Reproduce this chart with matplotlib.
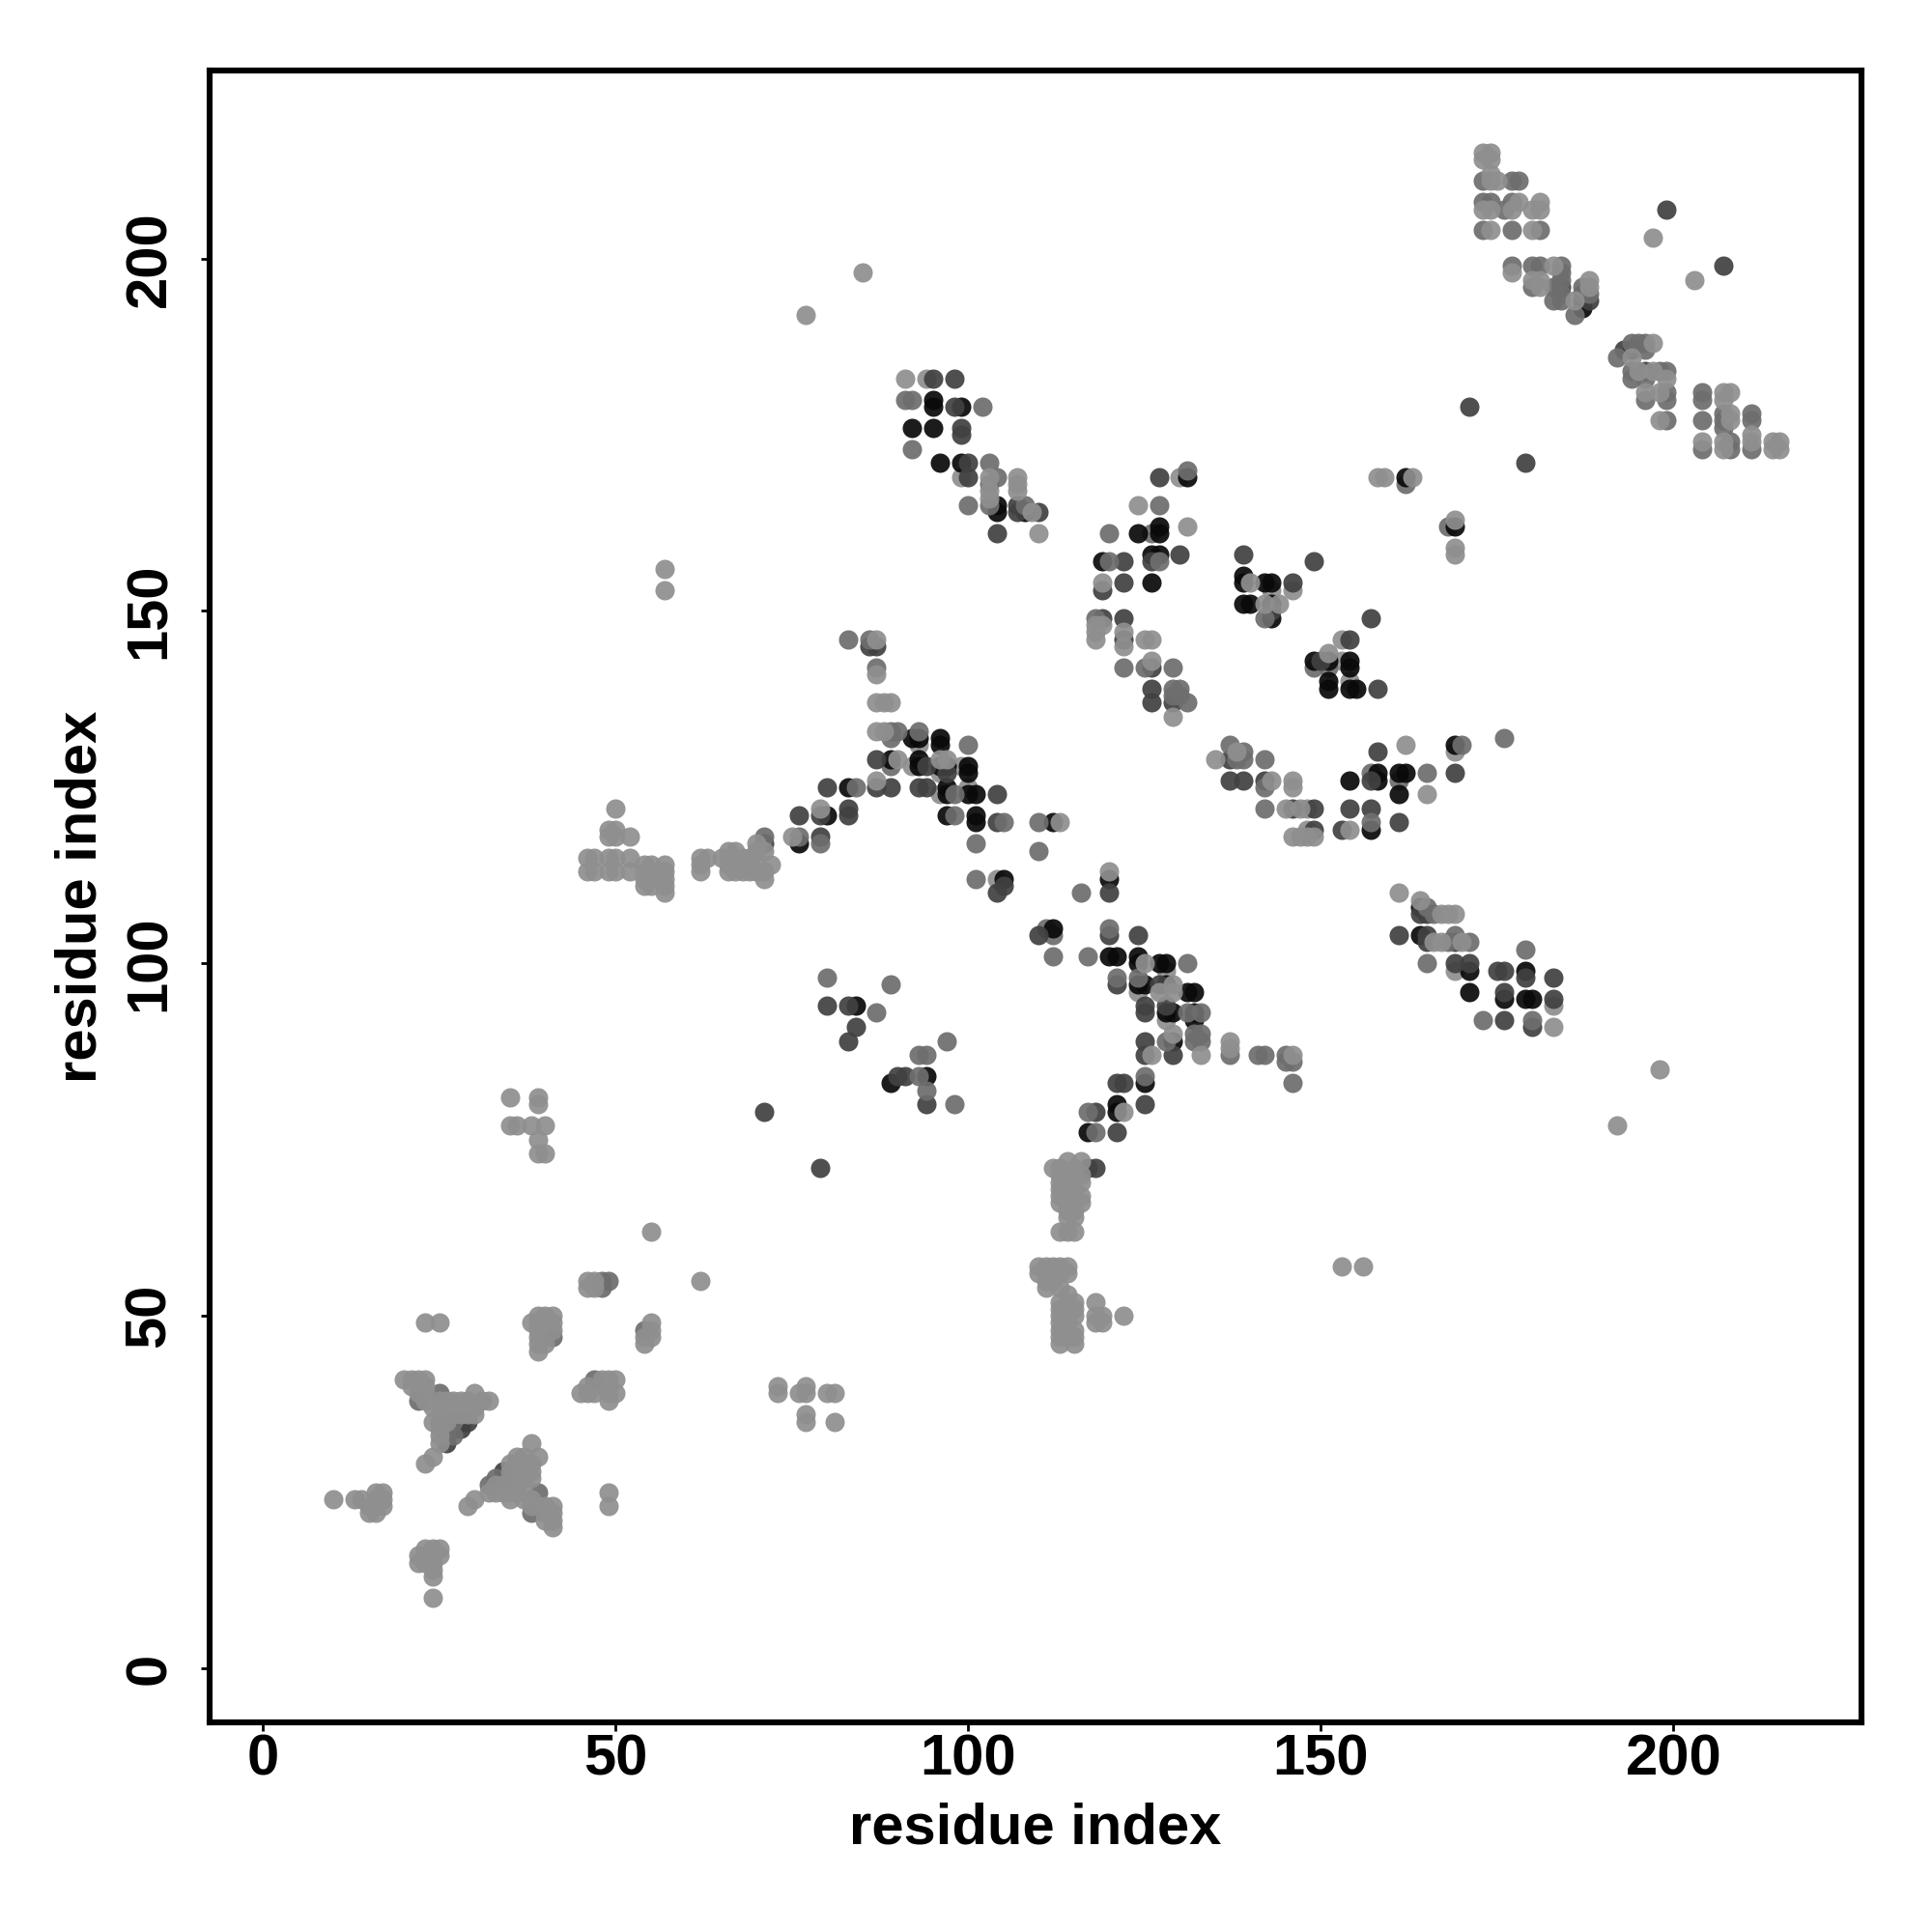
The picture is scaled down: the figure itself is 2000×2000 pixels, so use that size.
import numpy as np
import matplotlib
matplotlib.use("Agg")
import matplotlib.pyplot as plt

# contacts by grey level (residue i, residue j)
light_under = [(93,131),(92,128),(96,127),(99,128),(96,124),(100,125),(128,99),(124,96),(128,92),(104,112),(169,99),(183,94),
    (130,169),(143,153),(146,153),(153,146),(153,143),(154,140),(169,130),(148,122),(148,119),(94,183),(99,169)]

mid_under = [(89,128),(111,105),(112,104),(126,161),(157,127),(161,126),(168,162),(162,168),(149,142),(151,142)]

black = [(92,132),(93,132),(96,132),(96,131),(89,129),(93,129),(93,128),(96,128),(97,128),(100,128),(100,127),
    (83,125),(97,125),(97,124),(100,124),(101,124),(80,121),(97,121),(101,121),(101,120),(112,120),(76,117),(105,112),
    (120,112),(112,105),(120,101),(121,101),(124,101),(124,100),(127,100),(128,100),(124,97),(125,97),(128,97),(131,96),(132,96),
    (128,93),(129,93),(132,93),(132,92),(129,89),(125,83),(121,80),(121,79),(117,76),(84,94),(89,83),(94,84),
    (164,108),(164,104),(171,99),(171,96),(179,99),(176,95),(179,95),(180,95),(187,194),(187,193),(194,187),
    (131,169),(124,161),(127,162),(127,161),(119,157),(126,158),(127,158),(126,154),
    (139,155),(139,154),(142,154),(143,154),(139,151),(140,151),(143,151),(143,149),
    (149,143),(151,143),(154,143),(154,142),(151,140),(151,139),(154,139),(155,139),(162,169),(169,162),
    (154,126),(158,127),(158,126),(161,127),(162,127),(161,124),(157,119),(169,131),
    (95,180),(95,179),(99,179),(92,176),(95,176),(96,171),(99,171),(104,165),(104,164),(108,164)]

dark = [(86,145),(87,145),(87,129),(94,128),(97,127),(87,125),(89,125),(80,125),(93,125),(94,125),(104,124),
    (83,122),(83,121),(79,121),(76,121),(104,120),(79,118),(71,117),(105,111),(104,110),
    (120,110),(120,104),(124,104),(110,104),(121,97),(127,97),(125,94),(125,93),(128,94),(125,89),(125,87),(129,87),
    (121,83),(122,83),(125,80),(118,79),(121,76),(118,71),(117,71),(71,79),(79,71),(80,94),(83,94),(84,91),(83,89),(90,84),(91,84),(94,80),
    (161,104),(165,104),(165,103),(169,103),(164,107),(165,107),(169,100),(171,100),(175,99),(176,99),(179,98),
    (176,96),(176,92),(180,91),(183,98),(183,95),(127,169),(122,157),(126,157),(130,158),(119,153),(122,154),
    (119,149),(122,149),(122,146),(126,142),(126,139),(126,137),(129,137),(139,158),(146,154),(149,157),(143,150),
    (157,149),(154,146),(150,143),(158,139),(179,171),(137,129),(137,126),(139,126),(142,126),(146,122),(149,122),(149,119),
    (154,122),(157,122),(153,119),(161,120),(157,126),(158,130),(169,127),(95,183),(98,183),(98,179),(99,176),(99,175),
    (100,171),(100,169),(104,161),(107,165),(107,164),(110,164),(199,207),(207,199),(193,187),(187,195),(188,194),
    (196,184),(171,179),(184,196),(28,35),(29,35),(26,34),(27,34),(28,34),(26,32),(34,28),(34,27)]

mid = [(83,146),(86,146),(87,142),(89,133),(90,133),(89,132),(93,133),(100,131),(84,125),(98,124),(98,121),
    (105,120),(110,120),(101,117),(110,116),(76,118),(79,117),(71,118),(101,112),(116,110),(120,105),
    (112,101),(117,101),(131,100),(121,98),(124,98),(132,90),(133,90),(133,89),(132,89),(131,93),(133,93),(128,89),(137,87),
    (141,87),(142,87),(145,87),(145,86),(146,86),(146,83),(125,84),(117,79),(118,76),(80,98),(87,93),(89,97),(93,87),(94,87),
    (93,84),(94,82),(97,89),(98,80),(165,108),(166,107),(168,103),(169,104),(171,103),(165,100),(179,102),(173,92),(180,92),
    (131,170),(127,165),(120,161),(120,157),(127,157),(118,149),(122,142),(125,142),(129,142),(129,139),(130,139),
    (129,138),(130,138),(131,137),(142,149),(137,131),(139,130),(138,129),(139,129),
    (142,129),(142,125),(142,122),(157,120),(165,127),(170,131),(176,132),
    (91,180),(92,180),(102,179),(92,173),(103,171),(104,169),(103,168),(103,165),(100,165),(108,165),
    (173,211),(177,211),(178,211),(173,208),(174,208),(176,207),(177,208),(173,204),(177,204),(181,204),
    (177,199),(180,199),(181,199),(184,199),(184,198),(180,196),(183,196),(184,197),(183,194),(184,194),(184,195),
    (187,196),(188,195),(186,192),(192,186),(194,188),(195,188),(196,188),(196,187),(194,184),(194,183),(196,183),(198,184),
    (199,184),(196,180),(199,181),(199,180),(199,177),(204,181),(204,180),(204,177),(204,173),(207,178),(207,177),(207,176),
    (211,178),(211,177),(211,173),(208,174),(208,173),
    (25,39),(22,38),(25,35),(27,35),(26,33),(27,33),(33,27),(32,26),(39,25),(38,22),(54,48),(48,55),(49,55),(48,54),(47,41),(41,47)]

light = [(87,146),(87,141),(87,137),(88,137),(89,137),(87,133),(88,133),(90,129),(96,129),(97,129),
    (87,126),(79,122),(113,120),(75,118),(70,117),(70,116),(71,116),(50,122),(49,119),(50,119),(49,118),(50,118),(52,118),
    (46,115),(47,115),(49,115),(50,115),(52,115),(46,113),(47,113),(49,113),(50,113),(52,113),
    (54,114),(55,114),(57,114),(54,113),(55,113),(57,113),(54,112),(55,112),(56,112),(57,112),(54,111),(55,111),(57,111),(57,110),
    (62,115),(63,115),(62,114),(62,113),(66,116),(67,116),(65,115),(66,115),(67,115),(68,115),(69,115),(66,114),(67,114),(68,114),(69,114),
    (70,114),(66,113),(67,113),(68,113),(69,113),(70,113),(71,113),(72,114),(71,112),
    (120,113),(125,100),(129,97),(129,96),(127,96),(129,90),(133,87),(126,87),(137,89),(137,88),
    (146,87),(122,79),(161,110),(164,109),(167,107),(168,107),(169,107),(166,103),(167,103),(170,103),(183,91),
    (124,165),(131,162),(119,154),(118,148),(119,148),(118,147),(118,146),(122,147),(122,145),(125,146),(126,146),(126,143),(129,135),
    (140,154),(142,151),(144,151),(151,144),(159,169),(158,169),(163,169),(169,163),(169,159),(169,158),
    (135,129),(138,130),(143,126),(146,126),(146,125),(145,122),(147,122),(146,118),(148,118),(149,118),(147,118),(154,119),(165,124),(162,131),
    (91,183),(103,169),(103,167),(103,166),(107,169),(107,168),(107,167),(109,164),(110,161),
    (173,215),(174,215),(173,214),(174,214),(174,212),(174,211),(175,211),(173,207),(174,207),(178,208),(177,207),(180,207),(181,208),(181,207),(174,204),(180,204),
    (177,198),(183,199),(180,197),(181,197),(181,196),(188,197),(188,196),(186,194),(197,203),(203,197),(197,188),(194,186),(195,184),(197,184),(199,183),
    (196,181),(198,181),(198,177),(204,174),(207,181),(208,181),(207,180),(208,178),(208,177),(211,175),(211,174),(207,174),(207,173),(214,174),(215,174),(214,173),(215,173),
    (55,62),(62,55),(46,55),(47,55),(46,54),(47,54),(23,49),(25,49),(39,50),(40,50),(41,50),(38,49),(39,49),(40,49),(41,49),(39,48),(41,48),(39,47),(39,46),(40,46),(39,45),
    (55,49),(55,48),(54,47),(55,47),(54,46),(20,41),(21,41),(22,41),(23,41),(21,40),(22,40),(23,40),(22,39),(23,39),(23,38),(24,37),(25,38),(26,38),(27,38),(28,38),(29,38),(30,39),(31,38),(32,38),
    (26,37),(27,37),(28,37),(29,37),(30,37),(25,36),(26,36),(27,36),(28,36),(29,36),(30,36),(24,35),(26,35),(25,34),(25,33),(25,32),(24,30),(23,29),
    (38,32),(36,30),(37,30),(39,30),(35,29),(36,29),(37,29),(38,29),(35,28),(36,28),(37,28),(38,28),(35,27),(36,27),(37,27),(38,27),(33,26),(34,26),(35,26),(36,26),(37,26),
    (32,25),(33,25),(34,25),(35,25),(36,25),(35,24),(37,24),(38,24),(38,23),(39,23),(40,23),(41,23),(40,22),(41,22),(40,21),(41,21),(41,20),(30,24),(29,23),(49,25),(49,23),
    (10,24),(13,24),(14,24),(16,25),(17,25),(16,24),(17,24),(15,23),(16,23),(17,23),(15,22),(16,22),
    (23,17),(24,17),(25,17),(22,16),(23,16),(24,16),(25,16),(22,15),(23,15),(24,15),(24,14),(24,13),(24,10),
    (45,39),(46,39),(47,39),(49,39),(50,39),(46,40),(48,41),(49,41),(50,41),(48,40),(49,40),(49,38),
    (73,40),(73,39),(76,39),(77,40),(77,39),(77,36),(77,35),(80,39),(81,39),(81,35),
    (35,81),(39,81),(39,80),(35,77),(36,77),(38,77),(40,77),(39,75),(39,73),(40,73),(85,198),(77,192),(57,156),(57,153),(192,77),(198,85),(153,57),(156,57),
    (112,71),(113,71),(114,72),(116,72),(115,71),(113,70),(114,70),(116,70),(113,69),(114,69),(116,69),(113,68),(114,68),(115,68),(113,67),(114,67),(116,67),
    (113,66),(114,66),(116,66),(114,65),(115,65),(114,64),(115,64),(113,62),(114,62),(115,62),
    (110,57),(111,57),(112,57),(113,57),(114,57),(110,56),(111,56),(112,56),(113,56),(114,56),(111,55),(112,55),(111,54),(113,54),(114,53),
    (113,52),(114,52),(115,52),(118,52),(113,51),(115,51),(113,50),(114,50),(115,50),(118,50),(119,50),(122,50),(113,49),(114,49),(118,49),(119,49),
    (113,48),(114,48),(115,48),(113,47),(115,47),(113,46),(115,46)]

tick_vals = [0, 50, 100, 150, 200]

plt.rcParams["font.family"] = ["Liberation Sans", "DejaVu Sans"]
plt.rcParams["font.weight"] = "bold"

fig = plt.figure(figsize=(10, 10), dpi=200)
ax = fig.add_axes([0.1084, 0.1084, 0.8553, 0.8552])

# some light dots go under the dark ones, the rest on top
layers = [(light_under, "#8f8f8f"), (mid_under, "#6e6e6e"), (black, "#0a0a0a"),
          (dark, "#414141"), (mid, "#6e6e6e"), (light, "#8f8f8f")]
for pts, col in layers:
    pts = np.array(pts)
    ax.scatter(pts[:, 0], pts[:, 1], s=52, color=col, linewidths=0, alpha=0.93)

ax.set_xlim(-7.6, 226.7)
ax.set_ylim(-7.7, 226.7)
ax.set_xticks(tick_vals)
ax.set_yticks(tick_vals)
ax.tick_params(axis="both", length=3.2, width=1.0, labelsize=21.5)
ax.tick_params(axis="x", pad=1.0)
ax.tick_params(axis="y", pad=9)
plt.setp(ax.get_yticklabels(), rotation=90, va="center")
for s in ax.spines.values():
    s.set_linewidth(2.2)

ax.set_xlabel("residue index", fontsize=21.5, fontweight="bold", labelpad=5.5)
ax.set_ylabel("residue index", fontsize=21.5, fontweight="bold", labelpad=6)

fig.savefig("out.png", dpi=200)
